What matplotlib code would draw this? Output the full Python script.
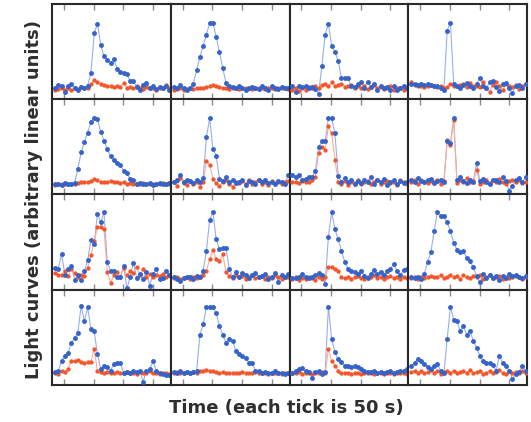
import numpy as np
import matplotlib
matplotlib.use("Agg")
import matplotlib.pyplot as plt

# Time grid of the binned light curves (seconds)
bin_width = 5.5
n_bins = 36
t0 = -15.0
time = t0 + bin_width * np.arange(n_bins)

tick_positions = [0, 50, 100, 150]

# Light curves per panel, row by row: (high-energy band in blue, low-energy band in red)
blue_r0c0 = [0.0, 0.5, 0.3, -0.5, 0.4, 0.6, 0.1, -0.3, 0.2, 0.0, 0.4, 2.3, 8.1, 9.5, 6.4, 4.7, 4.2, 3.7, 4.3, 2.9, 2.4, 2.2, 2.1, 1.1, 1.1, 0.2, -0.2, 0.5, 0.8, 0.1, 0.3, -0.1, 0.2, 0.0, 0.3, -0.3]
red_r0c0 = [-0.3, -0.1, 0.1, -0.2, 0.0, -0.3, 0.1, -0.1, 0.2, 0.0, 0.1, 0.6, 1.2, 0.9, 0.6, 0.5, 0.3, 0.4, 0.2, 0.3, 0.2, 0.8, 0.1, 0.2, 0.0, 0.3, 0.1, -0.1, 0.2, 0.0, 0.1, -0.2, 0.1, 0.0, 0.5, 0.1]

blue_r0c1 = [0.2, 0.0, 0.5, 0.1, -0.2, 0.0, 0.7, 2.7, 4.6, 6.3, 7.9, 9.6, 9.6, 7.6, 5.3, 3.0, 0.8, 0.3, 0.2, 0.0, 0.3, 0.1, -0.2, 0.0, 0.2, 0.1, -0.1, 0.3, 0.0, -0.3, 0.4, 0.1, -0.1, 0.2, 0.0, 0.1]
red_r0c1 = [-0.2, -0.1, 0.0, -0.2, -0.1, 0.0, -0.1, 0.0, 0.1, 0.0, 0.2, 0.3, 0.5, 0.4, 0.2, 0.1, 0.0, -0.1, 0.0, 0.1, -0.1, 0.0, 0.1, 0.0, -0.1, 0.0, 0.1, 0.0, -0.1, 0.0, 0.1, -0.1, 0.0, 0.1, 0.0, -0.1]

blue_r0c2 = [0.3, -0.5, 0.4, 0.2, 0.3, 0.0, 0.2, -0.1, -0.8, 3.3, 7.9, 9.5, 6.2, 5.4, 4.0, 1.5, 1.5, 1.5, 0.3, 0.2, 0.6, 0.9, 0.1, 1.0, 0.2, 0.7, -0.2, 0.3, 0.0, 0.2, -0.3, 0.3, -0.2, 0.1, 0.4, 0.0]
red_r0c2 = [-0.3, 0.1, -0.4, 0.0, -0.2, 0.2, 0.0, 0.3, 0.1, 0.5, 0.6, 0.4, 0.9, 0.3, 0.5, 0.7, 0.2, 0.4, 0.5, 0.1, 0.3, 0.0, 0.4, -0.1, 0.2, 0.5, 0.0, 0.2, -0.1, 0.1, 0.3, -0.2, 0.1, 0.0, -0.2, 0.1]

blue_r0c3 = [0.6, 0.7, 0.5, 0.6, 0.5, 0.6, 0.5, 0.4, 0.3, 0.1, -0.3, 8.5, 9.6, 0.7, 0.3, 0.0, 0.5, 0.8, 0.4, 0.1, 0.6, 1.5, 0.3, 0.0, 0.9, 1.1, 0.2, -0.4, 0.6, 0.8, 0.0, -0.7, 0.3, 0.5, 0.0, 0.6]
red_r0c3 = [0.9, 0.5, 0.3, 0.4, 0.2, 0.3, 0.5, 0.4, 0.2, 0.3, 0.0, 0.2, 0.6, 0.4, 0.3, 0.5, 0.7, 0.2, 0.8, 0.3, 0.4, 0.2, 0.9, 0.1, -0.5, 0.5, 1.0, 0.4, -0.3, 0.6, 0.3, 0.2, 0.5, -0.1, 0.4, 0.7]

blue_r1c0 = [-0.1, 0.0, -0.2, 0.1, -0.1, 0.0, 0.1, 2.2, 4.6, 6.1, 7.5, 9.1, 9.6, 9.5, 7.6, 6.3, 5.1, 4.0, 3.5, 3.1, 2.7, 1.9, 1.5, 0.7, 0.5, 0.0, 0.1, -0.1, 0.0, 0.1, -0.2, 0.0, 0.1, -0.1, 0.0, 0.1]
red_r1c0 = [-0.2, -0.1, 0.0, -0.1, 0.0, -0.1, 0.0, 0.1, 0.2, 0.3, 0.2, 0.4, 0.7, 0.5, 0.3, 0.2, 0.3, 0.4, 0.3, 0.2, 0.1, 0.2, 0.0, 0.1, 0.0, -0.1, 0.0, 0.1, -0.1, 0.0, 0.0, -0.1, 0.0, 0.1, -0.1, 0.0]

blue_r1c1 = [0.3, 0.5, 1.3, 0.2, 0.6, 0.4, 0.1, 0.5, 0.3, 0.8, 6.8, 9.6, 5.1, 4.1, 0.7, 0.4, 0.9, 0.2, 0.5, 0.1, 0.3, 0.6, -0.2, 0.4, 0.3, 0.0, 0.5, 0.2, 0.6, 0.1, 0.3, -0.1, 0.4, 0.2, 0.0, 1.2]
red_r1c1 = [0.2, -0.3, 0.8, 0.1, -0.2, 0.4, 0.0, 0.3, -0.5, 0.2, 3.3, 2.8, 0.7, 0.1, -0.4, 0.3, 0.5, 0.0, -0.5, 0.2, 0.1, 0.4, 0.0, 0.6, -0.1, 0.3, 0.5, 0.0, 0.2, -0.2, 0.4, 0.1, 0.3, 0.0, 0.2, 0.4]

blue_r1c2 = [1.3, 1.0, 1.2, 0.6, 0.7, 0.9, 1.0, 1.8, 5.4, 6.2, 6.2, 9.6, 9.6, 7.4, 1.1, 0.3, 0.8, 0.2, 0.5, -0.1, 0.4, 0.1, 0.6, 0.3, 0.9, 0.0, 0.5, 0.2, 0.7, -0.2, 0.3, 0.5, 0.0, 0.4, 0.1, 0.2]
red_r1c2 = [0.3, 0.2, 0.1, 0.4, 0.2, 0.3, 0.5, 1.0, 4.5, 5.4, 5.0, 8.4, 7.4, 3.5, 0.2, 0.0, 0.4, -0.2, 0.3, 0.1, 0.5, -0.1, 0.2, 0.4, 0.0, 0.3, 0.6, -0.1, 0.2, 0.4, 0.1, 0.3, -0.2, 0.5, 0.2, 0.0]

blue_r1c3 = [0.6, 0.3, 0.8, 0.4, 0.2, 0.5, 0.7, 0.1, 0.4, 0.6, 0.3, 6.2, 5.9, 9.6, 0.5, 0.9, 0.4, 0.1, 0.6, 0.2, 3.0, 0.4, 0.7, 0.3, 0.0, 0.6, 0.5, 0.2, 0.9, 0.4, -1.1, -0.3, 0.5, 0.8, 0.2, 0.9]
red_r1c3 = [0.2, 0.5, 0.0, 0.6, 0.3, 0.1, 0.4, 0.2, 0.5, 0.0, 0.4, 6.4, 5.7, 9.3, 0.1, 0.5, 0.2, 0.8, 0.3, 0.4, 2.0, 0.0, 0.3, 0.6, 0.1, 0.5, 0.2, 0.7, 0.3, 0.0, 0.4, 0.6, 0.2, 0.5, 0.1, 0.3]

blue_r2c0 = [1.6, 1.5, 3.7, 0.6, 1.4, 1.9, -0.1, 0.6, -0.2, 1.1, 2.7, 5.7, 5.1, 9.6, 8.3, 9.8, 2.5, 1.2, 1.2, 0.2, 0.2, 1.9, -1.4, 0.2, 2.4, 0.1, 0.7, 0.0, 1.0, -1.0, 0.7, 1.4, 0.0, 0.1, 1.2, 0.5]
red_r2c0 = [0.9, 0.5, 0.6, 1.2, 0.4, 1.5, 0.8, 0.2, 0.5, 0.4, 1.6, 3.5, 5.5, 7.6, 7.6, 7.4, 1.0, -0.6, 0.5, 1.0, 0.3, 1.6, 0.5, 1.2, 0.9, 1.8, 0.5, 1.4, 0.3, 0.7, 0.2, 0.6, 0.4, 0.7, 0.3, 0.5]

blue_r2c1 = [0.2, 0.0, -0.3, 0.1, 0.3, 0.2, 0.0, 0.4, 0.3, 1.2, 4.1, 8.7, 9.8, 5.8, 4.4, 4.6, 4.5, 1.5, 0.3, 1.0, 0.2, 0.8, 0.5, 0.1, 0.6, 0.9, 0.2, 0.4, 0.7, 0.0, 0.3, 0.8, -0.4, 0.5, 0.2, 0.7]
red_r2c1 = [0.1, 0.2, 0.0, 0.1, 0.3, 0.0, 0.2, 0.1, 0.3, 0.5, 1.2, 2.9, 4.2, 2.9, 2.6, 3.6, 1.0, 0.4, 0.1, 0.5, 0.2, 0.4, 0.0, 0.3, 0.5, 0.1, 0.2, 0.4, 0.0, 0.3, 0.1, 0.5, 0.2, 0.0, 0.3, 0.2]

blue_r2c2 = [0.1, 0.1, 0.3, 0.7, 0.3, 0.1, 0.3, 0.5, 0.9, 0.5, -0.7, 6.2, 9.8, 7.3, 5.8, 4.1, 2.5, 1.5, 1.1, 1.0, 0.7, 1.2, 0.4, 0.1, 0.7, 1.3, 0.7, 1.0, 0.5, 1.2, 1.5, 2.2, 1.2, 0.5, 1.3, 1.5]
red_r2c2 = [0.0, 0.2, -0.1, 0.1, 0.0, 0.2, 0.1, -0.1, 0.2, 0.0, 0.3, 1.7, 1.8, 1.5, 1.1, 0.2, 0.1, 0.3, 0.0, 0.2, 0.4, 0.1, 0.0, 0.3, 0.2, 0.5, 0.1, 0.3, 0.0, 0.2, 0.4, 0.1, 0.3, 0.0, 0.2, 0.1]

blue_r2c3 = [0.3, 0.1, 0.2, 0.0, 0.7, 2.5, 3.9, 7.0, 9.8, 9.2, 9.2, 8.3, 7.0, 5.3, 4.3, 3.9, 4.1, 3.0, 2.6, 1.7, 0.4, -0.5, 0.7, 0.1, 0.5, 0.1, 0.4, -0.2, 0.4, 0.1, 0.7, 0.4, 0.5, 0.3, 0.1, 0.4]
red_r2c3 = [0.1, 0.2, 0.0, 0.3, 0.1, 0.2, 0.4, 0.3, 0.2, 0.5, 0.1, 0.3, 0.6, 0.2, 0.4, 0.0, 0.5, 0.3, 0.1, 0.4, 0.2, 0.6, 0.0, 0.3, 0.5, 0.1, 0.2, 0.4, 0.0, 0.3, 0.1, 0.2, 0.4, 0.2, 0.0, 0.3]

blue_r3c0 = [0.3, 0.5, 1.9, 2.7, 3.1, 4.6, 5.3, 6.1, 10.0, 7.8, 9.8, 6.6, 6.3, 2.9, 0.7, 1.2, 1.0, 0.5, 1.5, 1.7, 1.7, 0.2, 0.3, 0.2, 0.5, 0.3, 0.5, -1.1, 0.5, 0.7, 1.9, 0.5, 0.2, 0.0, -0.1, -0.2]
red_r3c0 = [0.2, 0.0, 0.5, 0.3, 0.8, 1.9, 1.9, 2.0, 1.8, 1.7, 1.8, 1.8, 3.7, 0.4, 0.3, 0.2, 0.3, 0.1, 0.2, 0.3, 0.1, 0.2, 0.3, 0.1, 0.2, 0.0, 0.3, 0.1, 0.2, 0.4, 0.1, 0.2, 0.0, 0.2, 0.1, 0.0]

blue_r3c1 = [0.3, 0.2, 0.4, 0.2, 0.3, 0.2, 0.3, 0.4, 5.8, 7.3, 9.9, 9.9, 9.8, 9.0, 7.0, 5.8, 4.6, 5.1, 4.9, 3.4, 2.9, 2.7, 2.4, 1.7, 1.7, 0.5, 0.5, 0.2, 0.3, 0.1, 0.2, 0.4, 0.1, 0.2, 0.0, 0.2]
red_r3c1 = [0.2, 0.3, 0.2, 0.1, 0.3, 0.2, 0.3, 0.2, 0.4, 0.5, 0.6, 0.5, 0.4, 0.3, 0.2, 0.3, 0.2, 0.1, 0.2, 0.1, 0.2, 0.3, 0.1, 0.2, 0.1, 0.3, 0.2, 0.1, 0.2, 0.0, 0.1, 0.2, 0.1, 0.0, 0.2, 0.1]

blue_r3c2 = [0.2, 0.4, 0.7, 0.9, 0.4, 0.3, -0.5, 0.3, 0.4, 0.0, 0.3, 9.9, 5.1, 3.2, 2.2, 1.8, 1.2, 1.2, 1.0, 1.2, 1.0, 0.7, 0.4, 0.3, 0.3, 0.4, 0.2, 0.3, 0.2, 0.3, 0.4, 0.2, 0.3, 0.4, 0.4, 0.7]
red_r3c2 = [0.2, 0.1, 0.3, 0.0, 0.2, 0.1, 0.0, 0.2, 0.1, 0.3, 0.1, 3.7, 1.9, 1.2, 0.5, 0.2, 0.1, 0.2, 0.0, 0.1, 0.2, 0.0, 0.1, 0.2, 0.1, 0.0, 0.2, 0.1, 0.0, 0.1, 0.2, 0.0, 0.1, 0.2, 0.1, 0.0]

blue_r3c3 = [1.2, 1.7, 2.2, 1.9, 1.5, 1.0, 0.7, 1.2, 1.5, 0.5, 0.2, 5.1, 9.9, 8.0, 7.8, 6.3, 7.0, 5.8, 6.3, 4.9, 3.9, 2.7, 1.9, 1.7, 1.7, 1.3, 0.5, 2.7, 1.7, 1.2, 0.5, -0.7, 0.0, 0.3, 1.2, 0.5]
red_r3c3 = [0.3, 0.5, 0.2, 0.4, 0.1, 0.3, 0.6, 0.2, 0.4, 0.0, 0.3, 0.5, 0.2, 0.4, 0.1, 0.3, 0.5, 0.2, 0.6, 0.1, 0.3, 0.4, 0.0, 0.2, 0.5, 0.1, 0.3, 0.6, 0.2, 0.0, 0.4, 0.1, 0.3, 0.2, 0.5, 0.1]

panels = [
    [(blue_r0c0, red_r0c0), (blue_r0c1, red_r0c1), (blue_r0c2, red_r0c2), (blue_r0c3, red_r0c3)],
    [(blue_r1c0, red_r1c0), (blue_r1c1, red_r1c1), (blue_r1c2, red_r1c2), (blue_r1c3, red_r1c3)],
    [(blue_r2c0, red_r2c0), (blue_r2c1, red_r2c1), (blue_r2c2, red_r2c2), (blue_r2c3, red_r2c3)],
    [(blue_r3c0, red_r3c0), (blue_r3c1, red_r3c1), (blue_r3c2, red_r3c2), (blue_r3c3, red_r3c3)],
]

blue_line, blue_mark = "#9aaeea", "#3563c9"
red_line, red_mark = "#ffab94", "#f2562a"

fig = plt.figure(figsize=(5.31, 4.22), dpi=100)
gs = fig.add_gridspec(4, 4, left=0.098, right=0.9925, top=0.9905, bottom=0.0877,
                      wspace=0, hspace=0)

for r in range(4):
    for c in range(4):
        ax = fig.add_subplot(gs[r, c])
        blue, red = panels[r][c]
        ax.plot(time, blue, color=blue_line, lw=0.8, zorder=2)
        ax.plot(time, red, color=red_line, lw=0.8, zorder=2)
        ax.plot(time, red, ls="none", marker="o", ms=2.1, mfc=red_mark, mec=red_mark, zorder=3)
        ax.plot(time, blue, ls="none", marker="o", ms=2.5, mfc=blue_mark, mec=blue_mark, zorder=4)
        ax.set_xlim(-20, 180)
        ax.set_ylim(-1.6, 12.4)
        ax.set_xticks(tick_positions)
        ax.set_yticks([])
        ax.tick_params(axis="x", direction="in", top=True, bottom=True, length=4,
                       width=1.0, color="#8a8a8a", labelbottom=False)
        for s in ax.spines.values():
            s.set_linewidth(1.5)
            s.set_color("#2a2a2a")

fig.text(0.539, 0.033, "Time (each tick is 50 s)", ha="center", va="center",
         fontsize=13, fontweight="bold", family="DejaVu Sans", color="#2e2e2e")
fig.text(0.064, 0.528, "Light curves (arbitrary linear units)", ha="center", va="center",
         rotation=90, fontsize=13, fontweight="bold", family="DejaVu Sans", color="#2e2e2e")

fig.savefig("out.png", dpi=100)
